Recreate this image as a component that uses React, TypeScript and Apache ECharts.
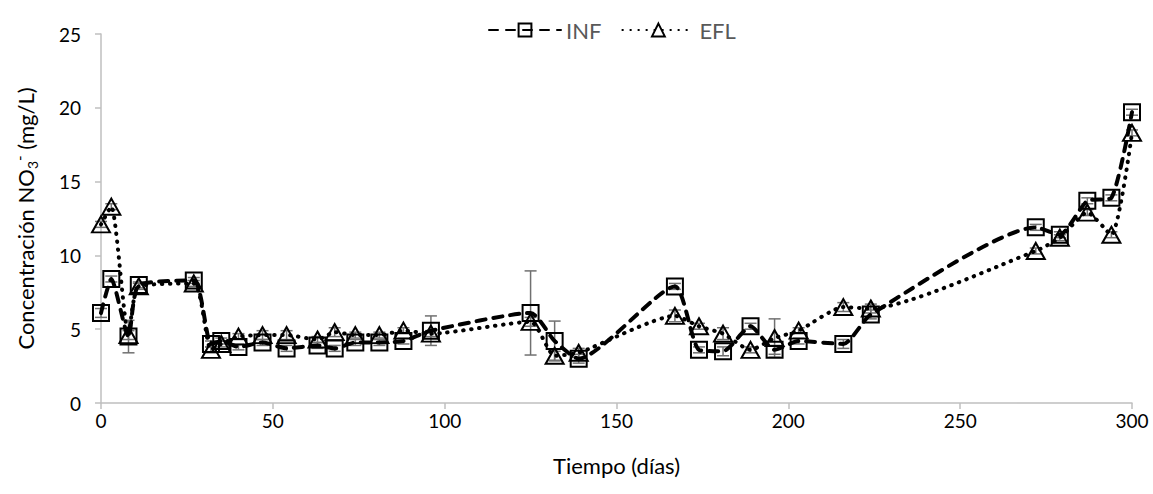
import React, { useEffect, useRef } from "react";
import * as echarts from "echarts";

const days = [0, 3, 8, 11, 27, 32, 35, 40, 47, 54, 63, 68, 74, 81, 88, 96, 125, 132, 139, 167, 174, 181, 189, 196, 203, 216, 224, 272, 279, 287, 294, 300];
const infValues = [6.1, 8.4, 4.5, 8.0, 8.3, 4.0, 4.2, 3.8, 4.1, 3.7, 3.9, 3.7, 4.1, 4.1, 4.2, 4.9, 6.1, 4.2, 3.0, 7.9, 3.6, 3.5, 5.2, 3.6, 4.2, 4.0, 6.0, 11.9, 11.4, 13.7, 13.9, 19.7];
const eflValues = [12.1, 13.3, 4.6, 7.9, 8.1, 3.6, 4.0, 4.5, 4.6, 4.6, 4.3, 4.8, 4.6, 4.6, 4.9, 4.7, 5.5, 3.2, 3.4, 5.9, 5.2, 4.7, 3.6, 4.4, 4.9, 6.5, 6.4, 10.3, 11.2, 12.9, 11.4, 18.3];
const infErr = [0.3, 0.2, 1.1, 0.2, 0.2, 0.2, 0.2, 0.2, 0.2, 0.2, 0.2, 0.2, 0.2, 0.2, 0.2, 1.0, 2.85, 1.35, 0.3, 0.2, 0.2, 0.3, 0.2, 0.3, 0.2, 0.3, 0.3, 0.2, 0.2, 0.2, 0.2, 0.2];
const eflErr = [0.2, 0.2, 0.3, 0.2, 0.2, 0.2, 0.2, 0.2, 0.3, 0.3, 0.2, 0.3, 0.2, 0.2, 0.2, 0.2, 0.3, 0.3, 0.3, 0.4, 0.2, 0.4, 0.2, 1.3, 0.2, 0.3, 0.3, 0.2, 0.2, 0.2, 0.2, 0.2];
const xTicks = { min: 0, max: 300, interval: 50 };
const yTicks = { min: 0, max: 25, interval: 5 };

const FONT = "Lato, 'Open Sans', sans-serif";

export default function App() {
  const ref = useRef<HTMLDivElement>(null);
  useEffect(() => {
    if (!ref.current) return;
    document.body.style.margin = "0";
    const chart = echarts.init(ref.current, null, { renderer: "svg" });
    const errData: number[][] = [];
    days.forEach((d, i) => {
      if (infErr[i] > 0) errData.push([d, infValues[i] - infErr[i], infValues[i] + infErr[i]]);
      if (eflErr[i] > 0) errData.push([d, eflValues[i] - eflErr[i], eflValues[i] + eflErr[i]]);
    });
    const errColor = "#707070";
    chart.setOption({
      animation: false,
      textStyle: { fontFamily: FONT },
      grid: { left: 101, right: 21, top: 34, bottom: 91, containLabel: false },
      legend: {
        data: ["INF", "EFL"],
        top: 14,
        left: 483,
        itemWidth: 72,
        itemHeight: 16,
        itemGap: 20,
        textStyle: { color: "#595959", fontSize: 22, fontFamily: FONT },
      },
      xAxis: {
        type: "value",
        min: xTicks.min,
        max: xTicks.max,
        interval: xTicks.interval,
        name: "Tiempo (días)",
        nameLocation: "middle",
        nameGap: 51,
        nameTextStyle: { fontSize: 22, color: "#000", fontFamily: FONT },
        axisLine: { show: true, lineStyle: { color: "#bfbfbf", width: 1.5 } },
        axisTick: { show: true, length: 6, lineStyle: { color: "#bfbfbf", width: 1.5 } },
        axisLabel: { fontSize: 19, color: "#000", margin: 8, fontFamily: FONT },
        splitLine: { show: false },
      },
      yAxis: {
        type: "value",
        min: yTicks.min,
        max: yTicks.max,
        interval: yTicks.interval,
        name: "Concentración NO{sub|3}{sup|-} (mg/L)",
        nameLocation: "middle",
        nameGap: 62,
        nameTextStyle: {
          fontSize: 22,
          color: "#000",
          fontFamily: FONT,
          lineHeight: 28,
          rich: {
            sub: { fontSize: 14, verticalAlign: "bottom", lineHeight: 28, color: "#000", fontFamily: FONT },
            sup: { fontSize: 15, verticalAlign: "top", lineHeight: 28, color: "#000", fontFamily: FONT },
          },
        },
        axisLine: { show: true, lineStyle: { color: "#bfbfbf", width: 1.5 } },
        axisTick: { show: true, length: 6, lineStyle: { color: "#bfbfbf", width: 1.5 } },
        axisLabel: { fontSize: 19, color: "#000", margin: 20, fontFamily: FONT },
        splitLine: { show: false },
      },
      series: [
        {
          name: "errors",
          type: "custom",
          clip: false,
          z: 1,
          encode: { x: 0, y: [1, 2] },
          data: errData,
          renderItem: (params: any, api: any) => {
            const x = api.value(0);
            const lo = api.coord([x, api.value(1)]);
            const hi = api.coord([x, api.value(2)]);
            const w = 6;
            const st = { stroke: errColor, lineWidth: 1.5 };
            return {
              type: "group",
              children: [
                { type: "line", shape: { x1: lo[0], y1: lo[1], x2: hi[0], y2: hi[1] }, style: st },
                { type: "line", shape: { x1: lo[0] - w, y1: lo[1], x2: lo[0] + w, y2: lo[1] }, style: st },
                { type: "line", shape: { x1: hi[0] - w, y1: hi[1], x2: hi[0] + w, y2: hi[1] }, style: st },
              ],
            };
          },
        },
        {
          name: "INF",
          type: "line",
          clip: false,
          z: 3,
          smooth: 0.2,
          data: days.map((d, i) => [d, infValues[i]]),
          symbol: "rect",
          symbolSize: 16,
          lineStyle: { color: "#000", width: 4, type: [9, 8], cap: "round" },
          itemStyle: { color: "rgba(255,255,255,0)", borderColor: "#000", borderWidth: 2 },
        },
        {
          name: "EFL",
          type: "line",
          clip: false,
          z: 2,
          smooth: 0.2,
          data: days.map((d, i) => [d, eflValues[i]]),
          symbol: "triangle",
          symbolSize: [18, 16],
          lineStyle: { color: "#000", width: 4, type: [0.5, 7.5], cap: "round" },
          itemStyle: { color: "rgba(255,255,255,0)", borderColor: "#000", borderWidth: 2 },
        },
      ],
    });
    return () => chart.dispose();
  }, []);
  return <div ref={ref} style={{ width: 1153, height: 494 }} />;
}
